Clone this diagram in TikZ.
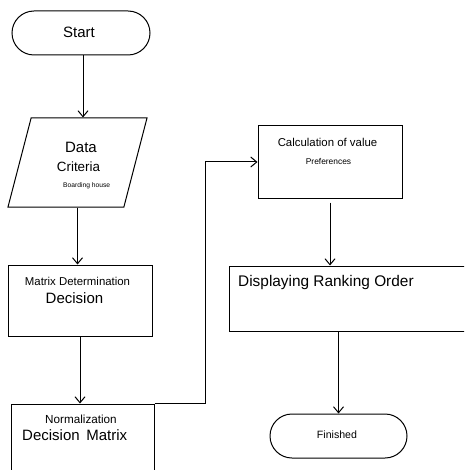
\documentclass[tikz,border=0pt]{standalone}
\usepackage{fontspec}
\setmainfont{Liberation Sans}
\usepackage{tikz}
\usetikzlibrary{positioning}
\usetikzlibrary{shapes.geometric}
\usetikzlibrary{shapes.misc}
\usetikzlibrary{arrows.meta}
\tikzset{>={Straight Barb[length=6pt,width=10pt]}}
\tikzset{terminal/.style={draw, line width=1pt, rounded rectangle, inner sep=0}}
\tikzset{process/.style={draw, line width=1pt, rectangle, inner sep=0}}
\tikzset{dataio/.style={draw, line width=1pt, trapezium, trapezium left angle=76, trapezium right angle=104, trapezium stretches=true, inner sep=2pt}}
\tikzset{lbl/.style={inner sep=0}}
\newcommand{\fsz}[1]{\fontsize{#1}{#1}\selectfont}

\begin{document}
\begin{tikzpicture}[x=1pt, y=-1pt]
\useasboundingbox (0, 0) rectangle (466, 470);
\clip (0, 0) rectangle (464, 470);
\node [terminal, minimum width=138pt, minimum height=44pt] (start) at (81, 33) {};
\node [dataio, minimum width=139pt, minimum height=89pt] (data) at (77.5, 162.5) {};
\node [process, minimum width=144pt, minimum height=71pt] (matrix) at (80, 300.5) {};
\node [process, minimum width=143pt, minimum height=100pt] (norm) at (82.5, 454) {};
\node [process, minimum width=144pt, minimum height=72pt] (calc) at (330, 162) {};
\node [process, minimum width=341pt, minimum height=65pt] (display) at (399.5, 298.5) {};
\node [terminal, minimum width=137pt, minimum height=44pt] (finish) at (338.5, 436) {};
% texts
\node [lbl, font=\fsz{15}] (tstart) at (79, 32) {Start};
\node [lbl, font=\fsz{15}] (tdata) at (81, 147) {Data};
\node [lbl, font=\fsz{13.4}] (tcrit) at (78.5, 167) {Criteria};
\node [lbl, font=\fsz{6.7}] (tboard) at (86.7, 185.5) {Boarding house};
\node [lbl, font=\fsz{11.4}] (tmatdet) at (77.5, 281) {Matrix Determination};
\node [lbl, font=\fsz{15}] (tdec) at (74.5, 298) {Decision};
\node [lbl, font=\fsz{11.7}] (tnorm) at (81, 419) {Normalization};
\node [lbl, font=\fsz{15}] (tdecmat) at (74.7, 435) {Decision\ \,Matrix};
\node [lbl, font=\fsz{11.4}] (tcalc) at (327.5, 142.5) {Calculation of value};
\node [lbl, font=\fsz{8.4}] (tpref) at (328.5, 161.5) {Preferences};
\node [lbl, font=\fsz{15.4}, anchor=base west] (trank) at (238, 286.5) {Displaying Ranking Order};
\node [lbl, font=\fsz{10.6}] (tfin) at (337, 435) {Finished};
% connectors
\draw [->, line width=1pt] ([xshift=2pt]start.south) to ([xshift=2pt]start.south |- data.north);
\draw [->, line width=1pt] (data.south) to (data.south |- matrix.north);
\draw [->, line width=1pt] (matrix.south) to (matrix.south |- norm.north);
\draw [->, line width=1pt] (norm.north east) -- ++(51, 0) |- (calc.west);
\draw [->, line width=1pt] ([yshift=-4pt]calc.south) to (calc.south |- display.north);
\draw [->, line width=1pt] (finish.north |- display.south) to (finish.north);
\end{tikzpicture}
\end{document}
